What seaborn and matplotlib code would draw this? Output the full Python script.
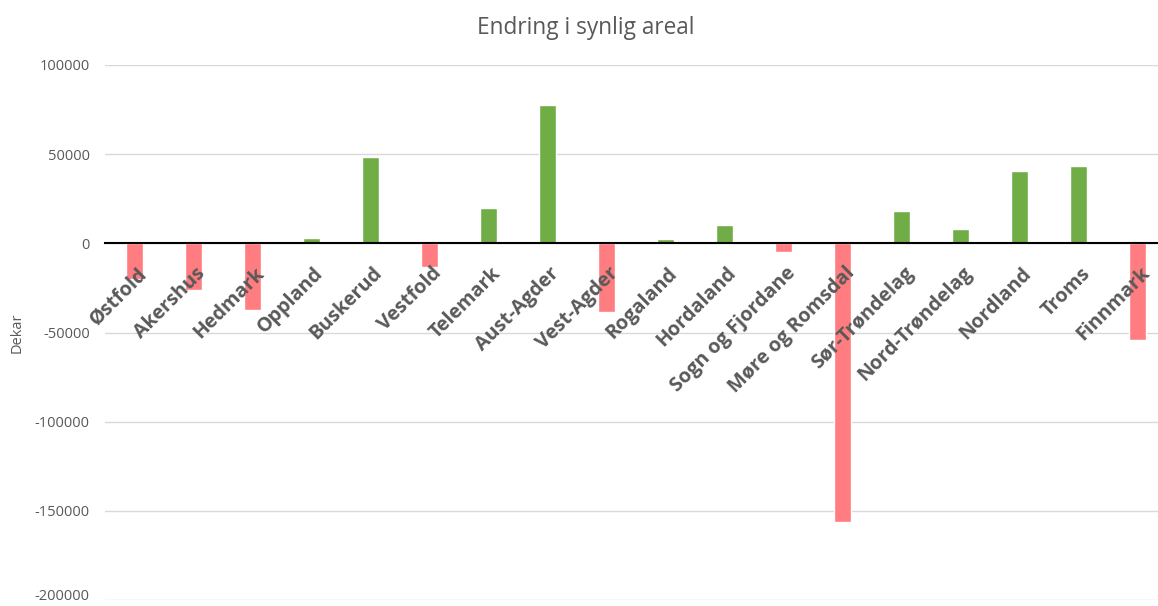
import matplotlib
matplotlib.use("Agg")
import matplotlib.pyplot as plt
from matplotlib.transforms import ScaledTranslation
import pandas as pd
import seaborn as sns

# Change in visible area per county (dekar)
fylker = [
    "Østfold", "Akershus", "Hedmark", "Oppland", "Buskerud", "Vestfold",
    "Telemark", "Aust-Agder", "Vest-Agder", "Rogaland", "Hordaland",
    "Sogn og Fjordane", "Møre og Romsdal", "Sør-Trøndelag", "Nord-Trøndelag",
    "Nordland", "Troms", "Finnmark",
]
endring = [
    -20200, -26400, -37600, 3200, 48500, -13300,
    20000, 77500, -38600, 2400, 10500,
    -5000, -156300, 18100, 7900,
    40400, 43400, -54100,
]
y_ticks = [100000, 50000, 0, -50000, -100000, -150000, -200000]

GREEN = "#70AD47"
RED = "#FF7C80"
TEXT = "#595959"

df = pd.DataFrame({"fylke": fylker, "endring": endring})
df["retning"] = ["økning" if v >= 0 else "nedgang" for v in df["endring"]]

sns.set_theme(style="white")
plt.rcParams["font.family"] = ["Open Sans", "DejaVu Sans"]

W, H, DPI = 1158, 606, 100
fig = plt.figure(figsize=(W / DPI, H / DPI), dpi=DPI)
left_px, top_px, bottom_px = 105, 65, 600
ax = fig.add_axes([left_px / W, 1 - bottom_px / H,
                   (W - left_px) / W, (bottom_px - top_px) / H])

sns.barplot(data=df, x="fylke", y="endring", hue="retning",
            palette={"økning": GREEN, "nedgang": RED},
            dodge=False, width=0.305, legend=False, ax=ax,
            saturation=1, zorder=3)

ax.set_ylim(-200000, 100000)
ax.set_xlim(-0.5, -0.5 + (W - left_px) / 59.0)
ax.set_yticks(y_ticks)
ax.set_yticklabels([str(t) for t in y_ticks], color=TEXT, fontsize=10.5)
ax.grid(axis="y", color="#d9d9d9", linewidth=1.0, zorder=0)
ax.grid(axis="x", visible=False)

# keep the lowest tick label inside the canvas
ax.get_yticklabels()[-1].set_verticalalignment("baseline")

for side in ("top", "right", "left"):
    ax.spines[side].set_visible(False)
ax.spines["bottom"].set_position(("data", 0))
ax.spines["bottom"].set_color("black")
ax.spines["bottom"].set_linewidth(1.5)
ax.spines["bottom"].set_zorder(4)

ax.tick_params(axis="both", length=0)
ax.tick_params(axis="y", pad=11)

# category names hang diagonally below the zero line, drawn over the bars
ax.set_xticks(range(len(fylker)))
ax.set_xticklabels([])
offset = ScaledTranslation(2 / DPI, -20 / DPI, fig.dpi_scale_trans)
for i, name in enumerate(fylker):
    ax.text(i, 0, name, transform=ax.transData + offset,
            rotation=45, rotation_mode="anchor", ha="right", va="top",
            fontsize=14.2, fontweight="bold", color=TEXT,
            zorder=6, clip_on=False)

ax.set_xlabel("")
ax.set_ylabel("Dekar", color=TEXT, fontsize=10.5)
ax.yaxis.set_label_coords(-0.076, 0.5)

fig.text(0.506, 1 - 28 / H, "Endring i synlig areal", ha="center",
         va="center", fontsize=16.3, color=TEXT)

fig.savefig("out.png", dpi=DPI, facecolor="white")
